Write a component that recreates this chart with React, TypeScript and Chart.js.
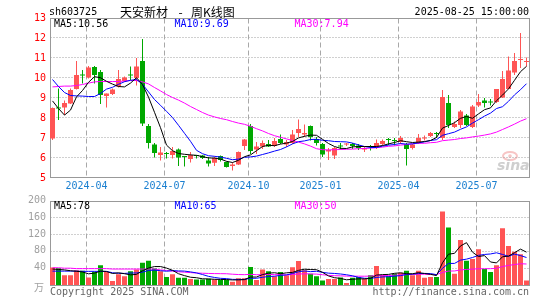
import React, { useEffect, useRef } from 'react';
import { Chart, registerables } from 'chart.js';

Chart.register(...registerables);

// ---------------- data ----------------
const weeks = [
  '2024-02-23', '2024-03-01', '2024-03-08', '2024-03-15', '2024-03-22', '2024-03-29', '2024-04-03', '2024-04-12', '2024-04-19', '2024-04-26',
  '2024-04-30', '2024-05-10', '2024-05-17', '2024-05-24', '2024-05-31', '2024-06-07', '2024-06-14', '2024-06-21', '2024-06-28', '2024-07-05',
  '2024-07-12', '2024-07-19', '2024-07-26', '2024-08-02', '2024-08-09', '2024-08-16', '2024-08-23', '2024-08-30', '2024-09-06', '2024-09-13',
  '2024-09-20', '2024-09-27', '2024-09-30', '2024-10-11', '2024-10-18', '2024-10-25', '2024-11-01', '2024-11-08', '2024-11-15', '2024-11-22',
  '2024-11-29', '2024-12-06', '2024-12-13', '2024-12-20', '2024-12-27', '2025-01-03', '2025-01-10', '2025-01-17', '2025-01-24', '2025-01-27',
  '2025-02-07', '2025-02-14', '2025-02-21', '2025-02-28', '2025-03-07', '2025-03-14', '2025-03-21', '2025-03-28', '2025-04-03', '2025-04-11',
  '2025-04-18', '2025-04-25', '2025-04-30', '2025-05-09', '2025-05-16', '2025-05-23', '2025-05-30', '2025-06-06', '2025-06-13', '2025-06-20',
  '2025-06-27', '2025-07-04', '2025-07-11', '2025-07-18', '2025-07-25', '2025-08-01', '2025-08-08', '2025-08-15', '2025-08-22', '2025-08-25',
];

const opens = [
  6.95, 8.47, 8.5, 8.7, 9.42, 10.12, 10.0, 10.52, 10.28, 9.07,
  9.18, 9.55, 9.83, 10.12, 9.98, 10.82, 7.57, 6.65, 6.13, 6.19,
  6.13, 6.4, 6.05, 5.93, 6.1, 6.1, 5.85, 5.74, 6.07, 5.77,
  5.57, 5.65, 6.57, 7.57, 6.4, 6.55, 6.68, 6.57, 6.92, 6.65,
  6.73, 7.22, 7.15, 7.57, 6.93, 6.68, 6.3, 6.1, 6.57, 6.65,
  6.68, 6.6, 6.4, 6.54, 6.52, 6.68, 6.9, 6.84, 6.77, 6.68,
  6.47, 6.73, 6.95, 7.07, 7.2, 6.97, 8.72, 7.52, 7.63, 8.1,
  7.52, 8.6, 8.85, 8.77, 8.77, 9.0, 9.43, 10.25, 10.88, 10.78,
];
const closes = [
  8.48, 8.45, 8.72, 9.37, 10.12, 10.1, 10.5, 10.12, 9.12, 9.2,
  9.4, 9.92, 10.0, 10.1, 10.55, 7.7, 6.73, 6.23, 6.25, 6.17,
  6.33, 6.0, 6.03, 6.12, 6.07, 5.97, 5.7, 5.98, 5.87, 5.53,
  5.65, 6.27, 6.9, 6.32, 6.55, 6.72, 6.55, 6.82, 6.72, 6.77,
  7.15, 7.42, 7.23, 7.02, 6.72, 6.15, 6.38, 6.48, 6.55, 6.68,
  6.57, 6.48, 6.48, 6.52, 6.72, 6.82, 6.88, 6.82, 6.98, 6.43,
  6.65, 6.98, 6.97, 7.22, 7.18, 9.02, 7.63, 7.67, 8.3, 7.63,
  8.55, 8.77, 8.72, 8.75, 9.42, 9.93, 10.35, 10.83, 10.9, 10.8,
];
const highs = [
  8.5, 9.45, 8.85, 9.45, 10.83, 10.37, 10.57, 10.57, 10.37, 9.2,
  9.45, 10.37, 10.05, 10.55, 10.98, 11.92, 7.67, 6.73, 6.53, 6.28,
  6.53, 6.45, 6.05, 6.27, 6.13, 6.13, 6.02, 6.05, 6.1, 5.8,
  5.75, 6.3, 6.92, 7.68, 6.77, 6.85, 6.88, 6.97, 7.15, 6.88,
  7.38, 7.9, 7.65, 7.6, 7.02, 6.73, 6.47, 6.52, 6.72, 6.72,
  6.73, 6.68, 6.55, 6.63, 6.9, 6.9, 6.97, 6.97, 7.07, 6.72,
  6.68, 7.18, 7.1, 7.27, 7.27, 9.38, 9.13, 7.8, 8.38, 8.17,
  8.63, 9.18, 8.97, 8.92, 9.43, 10.33, 11.05, 11.22, 12.22, 11.0,
];
const lows = [
  6.88, 7.87, 8.12, 8.67, 9.4, 9.7, 9.95, 9.7, 8.67, 8.5,
  9.12, 9.5, 9.78, 9.87, 9.6, 7.58, 6.45, 6.0, 5.85, 5.95,
  5.95, 5.57, 5.55, 5.75, 5.95, 5.93, 5.55, 5.58, 5.8, 5.5,
  5.35, 5.62, 6.37, 6.18, 6.18, 6.43, 6.52, 6.52, 6.68, 6.52,
  6.68, 7.02, 7.02, 6.85, 6.6, 6.02, 5.88, 5.93, 6.4, 6.57,
  6.43, 6.38, 6.27, 6.35, 6.43, 6.6, 6.63, 6.6, 6.68, 5.6,
  6.4, 6.68, 6.85, 7.02, 6.98, 6.88, 7.47, 7.47, 7.47, 7.58,
  7.47, 8.53, 8.5, 8.6, 8.72, 8.98, 9.43, 10.13, 10.47, 10.55,
];

const ma5 = [
  8.83, 8.45, 8.12, 8.37, 9.03, 9.35, 9.76, 10.04, 9.99, 9.81,
  9.67, 9.55, 9.53, 9.72, 9.99, 9.65, 9.02, 8.26, 7.49, 6.62,
  6.34, 6.2, 6.16, 6.13, 6.11, 6.04, 5.98, 5.97, 5.92, 5.81,
  5.75, 5.86, 6.04, 6.13, 6.34, 6.55, 6.61, 6.59, 6.67, 6.72,
  6.8, 6.98, 7.06, 7.12, 7.11, 6.91, 6.7, 6.55, 6.46, 6.45,
  6.53, 6.55, 6.55, 6.55, 6.55, 6.6, 6.68, 6.75, 6.84, 6.79,
  6.75, 6.77, 6.8, 6.85, 7.0, 7.47, 7.6, 7.74, 7.96, 8.05,
  7.96, 8.18, 8.39, 8.48, 8.84, 9.12, 9.43, 9.86, 10.29, 10.56,
];
const ma10 = [
  9.9, 9.55, 9.25, 9.1, 9.08, 9.07, 9.05, 9.05, 9.2, 9.42,
  9.51, 9.66, 9.79, 9.86, 9.9, 9.66, 9.28, 8.9, 8.61, 8.31,
  8.0, 7.61, 7.21, 6.81, 6.36, 6.19, 6.09, 6.06, 6.02, 5.96,
  5.89, 5.92, 6.01, 6.03, 6.07, 6.15, 6.23, 6.32, 6.4, 6.53,
  6.68, 6.79, 6.83, 6.9, 6.91, 6.86, 6.84, 6.8, 6.79, 6.78,
  6.72, 6.63, 6.55, 6.5, 6.5, 6.57, 6.62, 6.65, 6.7, 6.67,
  6.68, 6.73, 6.78, 6.85, 6.89, 7.11, 7.19, 7.27, 7.41, 7.53,
  7.72, 7.89, 8.07, 8.22, 8.45, 8.54, 8.81, 9.13, 9.39, 9.69,
];
const ma30 = [
  9.53, 9.55, 9.57, 9.57, 9.6, 9.65, 9.72, 9.78, 9.8, 9.8,
  9.8, 9.8, 9.82, 9.85, 9.85, 9.78, 9.68, 9.5, 9.33, 9.15,
  9.0, 8.87, 8.72, 8.55, 8.4, 8.25, 8.12, 8.03, 7.95, 7.89,
  7.8, 7.72, 7.66, 7.56, 7.44, 7.33, 7.2, 7.09, 7.01, 6.93,
  6.85, 6.77, 6.68, 6.57, 6.44, 6.39, 6.38, 6.39, 6.4, 6.41,
  6.42, 6.44, 6.45, 6.47, 6.49, 6.52, 6.56, 6.58, 6.62, 6.65,
  6.69, 6.71, 6.71, 6.74, 6.76, 6.84, 6.87, 6.9, 6.95, 6.98,
  7.03, 7.07, 7.12, 7.18, 7.27, 7.4, 7.53, 7.67, 7.82, 7.94,
];

const volumes = [
  41.8, 40, 23.3, 23.3, 35, 33.7, 17.6, 31.3, 47.3, 31,
  9.7, 25.7, 21, 33, 37, 52.8, 57.6, 39.3, 33, 19,
  25.7, 17, 17, 14, 13, 13, 15, 13, 12, 12,
  8, 16, 16, 43, 12, 37, 33, 21, 31, 23,
  42, 57, 35, 27, 21, 11, 14, 14, 18, 5,
  17, 19, 14, 23, 45, 23, 21, 27, 29, 34,
  23, 34, 17, 19, 19, 175, 137, 27, 107, 58,
  62, 85, 38, 31, 47, 135, 93, 79, 73, 11,
];
const volMa5 = [
  38, 37, 36, 34, 32.7, 31.1, 26.6, 28.2, 33.0, 32.2,
  27.4, 29.0, 26.9, 24.1, 25.3, 33.9, 40.3, 43.9, 43.9, 40.3,
  34.9, 26.8, 22.3, 18.5, 17.3, 14.8, 14.4, 13.6, 13.2, 13.0,
  12.0, 12.2, 12.8, 19.0, 19.0, 24.8, 28.2, 29.2, 26.8, 29.0,
  30.0, 34.8, 37.6, 36.8, 36.4, 30.2, 21.6, 17.4, 15.6, 12.4,
  13.6, 14.6, 14.6, 15.6, 23.6, 24.8, 25.2, 27.8, 29.0, 26.8,
  26.8, 29.4, 27.4, 25.4, 22.4, 52.8, 73.4, 75.4, 93.0, 100.8,
  78.2, 67.8, 70.0, 54.8, 52.6, 67.2, 68.8, 77.0, 85.4, 78.2,
];
const volMa10 = [
  33, 33, 33, 33, 33, 32.5, 32.5, 32.5, 32.5, 32.4,
  29.2, 27.8, 27.6, 28.5, 28.7, 30.6, 34.6, 35.4, 34.0, 32.8,
  34.4, 33.5, 33.1, 31.2, 28.8, 24.9, 20.6, 18.0, 15.9, 15.2,
  13.4, 13.3, 13.2, 16.1, 16.0, 18.4, 20.2, 21.0, 22.9, 24.0,
  27.4, 31.5, 33.4, 31.8, 32.7, 30.1, 28.2, 27.5, 26.2, 24.4,
  21.9, 18.1, 16.0, 15.6, 18.0, 19.2, 19.9, 21.2, 22.3, 25.2,
  25.8, 27.3, 27.6, 27.2, 24.6, 39.8, 51.4, 51.4, 59.2, 61.6,
  65.5, 70.6, 72.7, 73.9, 76.7, 72.7, 68.3, 73.5, 70.1, 65.4,
];
const volMa30 = [
  41, 41, 40, 40, 39, 39, 39, 39, 39, 39,
  38, 38, 38, 38, 38, 38, 38, 38, 36, 34.5,
  33, 31.5, 30.5, 29.5, 28.5, 28, 27.5, 27.2, 27, 26.8,
  25.7, 24.9, 24.6, 25.3, 24.5, 24.6, 25.1, 24.8, 24.3, 24.0,
  25.1, 26.1, 26.6, 26.4, 25.9, 24.5, 23.0, 22.2, 21.7, 21.2,
  20.9, 21.0, 20.9, 21.2, 22.3, 22.6, 22.8, 23.3, 23.8, 24.6,
  25.1, 25.7, 25.7, 24.9, 25.1, 29.7, 33.2, 33.4, 35.9, 37.1,
  37.8, 38.7, 38.8, 38.9, 39.8, 43.9, 46.6, 48.7, 50.6, 50,
];

const priceTicks = [5, 6, 7, 8, 9, 10, 11, 12, 13];
const volumeTicks = [40, 80, 120, 160, 200];
const quarterMonths = ['01', '04', '07', '10'];

const stockCode = 'sh603725';
const stockName = '天安新材';
const chartKind = '周K线图';
const quoteTime = '2025-08-25 15:00:00';

// ---------------- style ----------------
const UP = '#ff5555';
const DOWN = '#00a800';
const C_MA5 = '#000000';
const C_MA10 = '#0000ff';
const C_MA30 = '#ff00ff';
const MONO = '10px "DejaVu Sans Mono", monospace';
const CJK = '12px "Noto Sans CJK SC", sans-serif';

const candleColors = opens.map((o, i) => (closes[i] >= o ? UP : DOWN));

const quarterTicks: { index: number; label: string }[] = [];
for (let i = 1; i < weeks.length; i++) {
  const m = weeks[i].slice(5, 7);
  if (m !== weeks[i - 1].slice(5, 7) && quarterMonths.includes(m)) {
    quarterTicks.push({ index: i, label: weeks[i].slice(0, 7) });
  }
}

function hLine(ctx: CanvasRenderingContext2D, x1: number, x2: number, y: number) {
  ctx.beginPath();
  ctx.moveTo(x1, y);
  ctx.lineTo(x2, y);
  ctx.stroke();
}
function vLine(ctx: CanvasRenderingContext2D, x: number, y1: number, y2: number) {
  ctx.beginPath();
  ctx.moveTo(x, y1);
  ctx.lineTo(x, y2);
  ctx.stroke();
}

function frame(chart: any, topValue: number, bottomValue: number) {
  const { chartArea, scales } = chart;
  const L = Math.round(chartArea.left) + 0.5;
  const R = Math.round(chartArea.right) - 0.5;
  const T = Math.floor(scales.y.getPixelForValue(topValue)) + 0.5;
  const B = Math.floor(scales.y.getPixelForValue(bottomValue)) + 0.5;
  return { L, R, T, B };
}

function drawVerticalDashes(chart: any, T: number, B: number) {
  const ctx = chart.ctx;
  ctx.strokeStyle = '#a8a8a8';
  ctx.setLineDash([5, 3]);
  for (const t of quarterTicks) {
    const px = Math.floor(chart.scales.x.getPixelForValue(t.index) - 2) + 0.5;
    vLine(ctx, px, T, B);
  }
  ctx.setLineDash([]);
}

const priceDeco = {
  id: 'priceDeco',
  beforeDatasetsDraw(chart: any) {
    const ctx = chart.ctx as CanvasRenderingContext2D;
    const y = chart.scales.y;
    const { L, R, B } = frame(chart, 13, 5);
    const T = Math.floor(y.getPixelForValue(13)) + 1.5;
    ctx.save();
    // watermark
    ctx.strokeStyle = 'rgba(240,150,150,0.55)';
    ctx.lineWidth = 2;
    ctx.beginPath();
    ctx.ellipse(510, 156, 7, 4, 0, 0, Math.PI * 2);
    ctx.stroke();
    ctx.fillStyle = 'rgba(240,150,150,0.55)';
    ctx.beginPath();
    ctx.arc(510, 156, 1.8, 0, Math.PI * 2);
    ctx.fill();
    ctx.fillStyle = '#cfcfcf';
    ctx.font = 'italic bold 14px "DejaVu Sans", sans-serif';
    ctx.textAlign = 'left';
    ctx.textBaseline = 'alphabetic';
    ctx.fillText('sina', 497, 170);
    // grid
    ctx.lineWidth = 1;
    ctx.strokeStyle = '#a0a0a0';
    ctx.setLineDash([1, 2]);
    for (const v of priceTicks) {
      if (v === 5 || v === 13) continue;
      hLine(ctx, L, R, Math.floor(y.getPixelForValue(v)) + 0.5);
    }
    ctx.setLineDash([]);
    drawVerticalDashes(chart, T, B);
    ctx.strokeStyle = '#999999';
    ctx.strokeRect(L, T, R - L, B - T);
    ctx.restore();
  },
  afterDraw(chart: any) {
    const ctx = chart.ctx as CanvasRenderingContext2D;
    const y = chart.scales.y;
    const x = chart.scales.x;
    const B = Math.floor(y.getPixelForValue(5)) + 0.5;
    ctx.save();
    ctx.font = MONO;
    ctx.textBaseline = 'middle';
    // y labels
    ctx.fillStyle = '#ff0000';
    ctx.textAlign = 'right';
    for (const v of priceTicks) {
      ctx.fillText(String(v), 46, y.getPixelForValue(v) + 0.5);
    }
    // x labels
    ctx.fillStyle = '#1a7fd0';
    ctx.textAlign = 'center';
    for (const t of quarterTicks) {
      ctx.fillText(t.label, x.getPixelForValue(t.index) - 2, B + 9);
    }
    // header
    ctx.fillStyle = '#000000';
    ctx.textAlign = 'left';
    ctx.fillText(stockCode, 49, 12);
    ctx.textAlign = 'right';
    ctx.fillText(quoteTime, 529, 12);
    ctx.font = CJK;
    ctx.textAlign = 'left';
    ctx.fillText(stockName, 120, 12);
    ctx.fillText(chartKind, 191, 12);
    ctx.textAlign = 'center';
    ctx.fillText('-', 180.5, 12);
    // MA legend
    ctx.font = MONO;
    ctx.textAlign = 'left';
    const last = ma5.length - 1;
    ctx.fillStyle = C_MA5;
    ctx.fillText('MA5:' + ma5[last].toFixed(2), 54, 24.5);
    ctx.fillStyle = C_MA10;
    ctx.fillText('MA10:' + ma10[last].toFixed(2), 174.5, 24.5);
    ctx.fillStyle = C_MA30;
    ctx.fillText('MA30:' + ma30[last].toFixed(2), 294.5, 24.5);
    ctx.restore();
  },
};

const volumeDeco = {
  id: 'volumeDeco',
  beforeDatasetsDraw(chart: any) {
    const ctx = chart.ctx as CanvasRenderingContext2D;
    const y = chart.scales.y;
    const { L, R, T, B } = frame(chart, 200, 0);
    ctx.save();
    ctx.lineWidth = 1;
    ctx.strokeStyle = '#a0a0a0';
    ctx.setLineDash([1, 2]);
    for (const v of volumeTicks) {
      if (v === 200) continue;
      hLine(ctx, L, R, Math.floor(y.getPixelForValue(v)) + 0.5);
    }
    ctx.setLineDash([]);
    drawVerticalDashes(chart, T, B);
    ctx.strokeStyle = '#999999';
    ctx.strokeRect(L, T, R - L, B - T);
    ctx.restore();
  },
  afterDraw(chart: any) {
    const ctx = chart.ctx as CanvasRenderingContext2D;
    const y = chart.scales.y;
    ctx.save();
    ctx.font = MONO;
    ctx.textBaseline = 'middle';
    ctx.fillStyle = '#a0a0a0';
    ctx.textAlign = 'right';
    for (const v of volumeTicks) {
      ctx.fillText(String(v), 46, y.getPixelForValue(v) - 0.5);
    }
    ctx.font = '10px "Noto Sans CJK SC", sans-serif';
    ctx.fillText('万', 44, 287);
    ctx.font = MONO;
    ctx.textAlign = 'left';
    const last = volMa5.length - 1;
    ctx.fillStyle = C_MA5;
    ctx.fillText('MA5:' + Math.round(volMa5[last]), 54, 206);
    ctx.fillStyle = C_MA10;
    ctx.fillText('MA10:' + Math.round(volMa10[last]), 174.5, 206);
    ctx.fillStyle = C_MA30;
    ctx.fillText('MA30:' + Math.round(volMa30[last]), 294.5, 206);
    ctx.fillStyle = '#666666';
    ctx.fillText('Copyright 2025 SINA.COM', 50, 292.5);
    ctx.textAlign = 'right';
    ctx.fillText('http://finance.sina.com.cn', 529, 292.5);
    ctx.restore();
  },
};

function lineDs(label: string, data: number[], color: string) {
  return {
    type: 'line' as const,
    label,
    data,
    borderColor: color,
    backgroundColor: color,
    borderWidth: 1,
    pointRadius: 0,
    tension: 0,
    order: 0,
  };
}

export default function App() {
  const priceRef = useRef<HTMLCanvasElement>(null);
  const volRef = useRef<HTMLCanvasElement>(null);

  useEffect(() => {
    const common = {
      responsive: false,
      maintainAspectRatio: false,
      animation: false as const,
      devicePixelRatio: 1,
      events: [] as any[],
      plugins: { legend: { display: false }, tooltip: { enabled: false }, title: { display: false } },
    };

    const priceChart = new Chart(priceRef.current as HTMLCanvasElement, {
      type: 'bar',
      data: {
        labels: weeks,
        datasets: [
          lineDs('MA5', ma5, C_MA5),
          lineDs('MA10', ma10, C_MA10),
          lineDs('MA30', ma30, C_MA30),
          {
            type: 'bar',
            label: 'body',
            data: opens.map((o, i) => [o, closes[i]]) as any,
            backgroundColor: candleColors,
            barThickness: 5,
            minBarLength: 1,
            grouped: false,
            borderWidth: 0,
            inflateAmount: 0,
            order: 1,
          } as any,
          {
            type: 'bar',
            label: 'wick',
            data: lows.map((l, i) => [l, highs[i]]) as any,
            backgroundColor: candleColors,
            barThickness: 1,
            grouped: false,
            borderWidth: 0,
            inflateAmount: 0,
            order: 2,
          } as any,
        ],
      },
      options: {
        ...common,
        layout: { padding: { left: 49.5, right: 15.5, top: 17.5, bottom: 122.5 } },
        scales: {
          x: { display: false, offset: true },
          y: { display: false, min: 5, max: 13 },
        },
      } as any,
      plugins: [priceDeco],
    });

    const volumeChart = new Chart(volRef.current as HTMLCanvasElement, {
      type: 'bar',
      data: {
        labels: weeks,
        datasets: [
          lineDs('MA5', volMa5, C_MA5),
          lineDs('MA10', volMa10, C_MA10),
          lineDs('MA30', volMa30, C_MA30),
          {
            type: 'bar',
            label: 'volume',
            data: volumes,
            backgroundColor: candleColors,
            barThickness: 5,
            grouped: false,
            borderWidth: 0,
            inflateAmount: 0,
            order: 1,
          } as any,
        ],
      },
      options: {
        ...common,
        layout: { padding: { left: 49.5, right: 15.5, top: 201, bottom: 15 } },
        scales: {
          x: { display: false, offset: true },
          y: { display: false, min: 0, max: 200 },
        },
      } as any,
      plugins: [volumeDeco],
    });

    return () => {
      priceChart.destroy();
      volumeChart.destroy();
    };
  }, []);

  return (
    <div style={{ position: 'fixed', left: 0, top: 0, width: 545, height: 300, background: '#ffffff' }}>
      <canvas ref={priceRef} width={545} height={300} style={{ position: 'absolute', left: 0, top: 0 }} />
      <canvas ref={volRef} width={545} height={300} style={{ position: 'absolute', left: 0, top: 0 }} />
    </div>
  );
}
